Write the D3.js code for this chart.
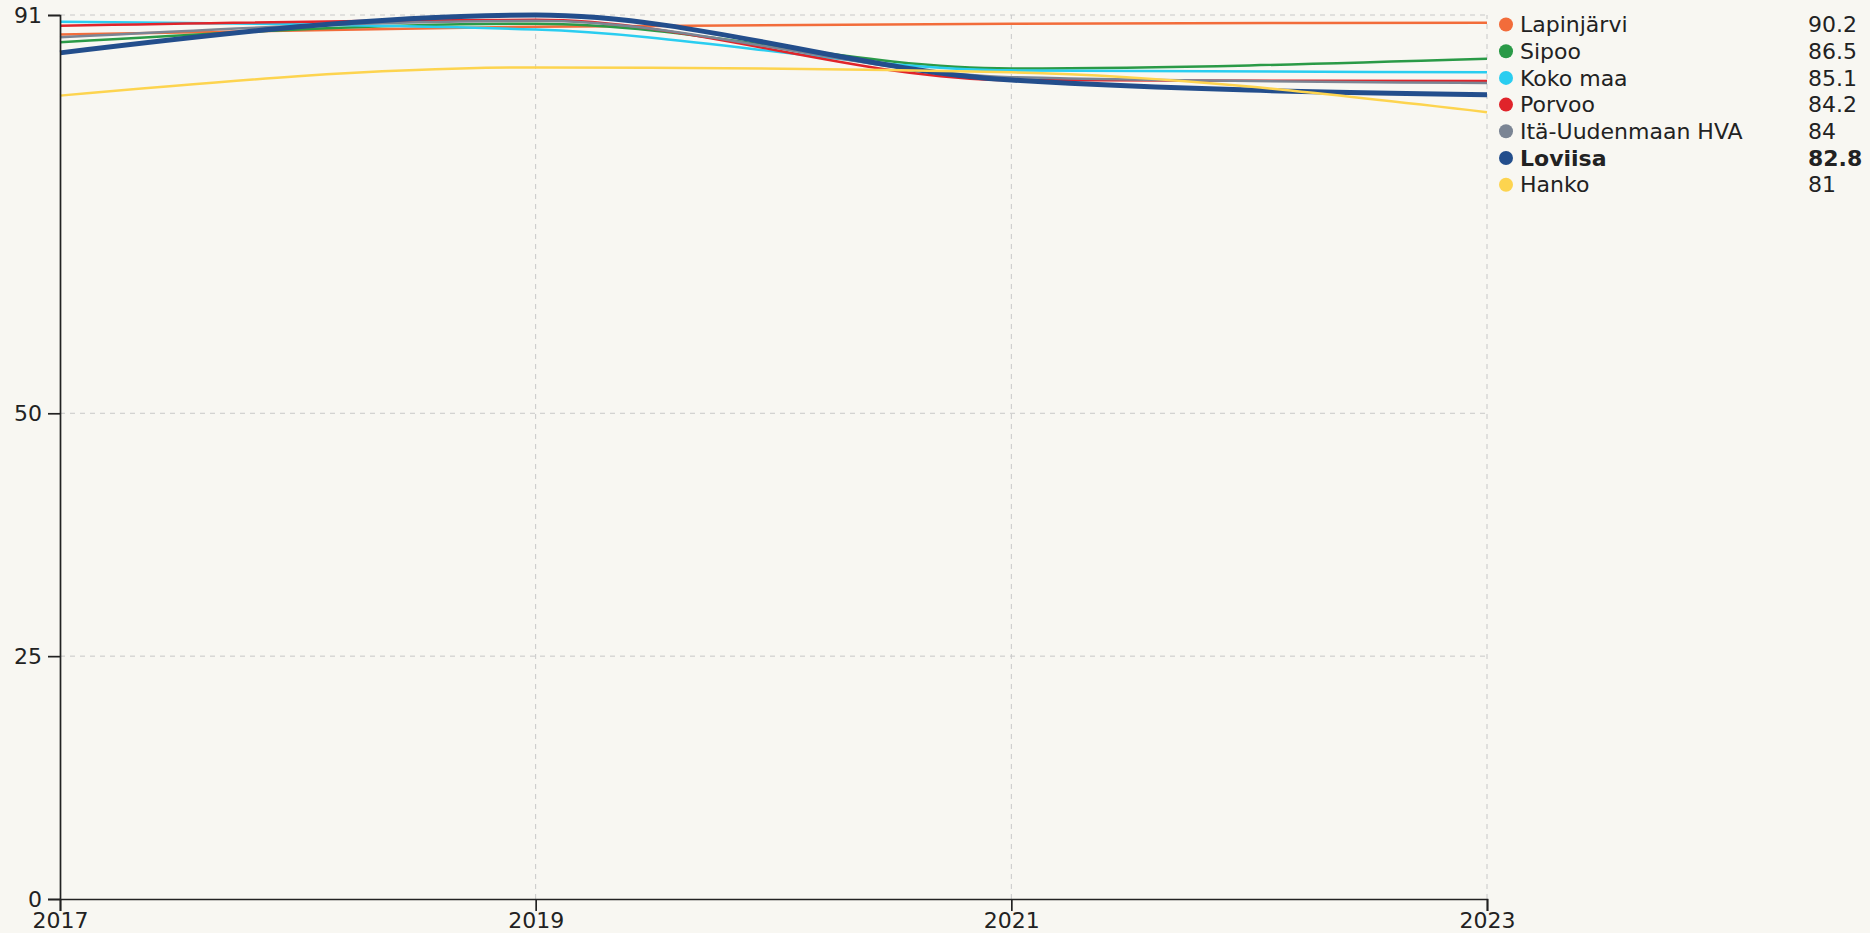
<!DOCTYPE html>
<html>

<head>
    <meta charset="utf-8">
    <script src="https://d3js.org/d3.v7.min.js"></script>
    <style>
        body {
            margin: 0;
            background: #f8f7f2;
        }
        text {
            font-family: "DejaVu Sans", sans-serif;
            fill: #222;
        }
    </style>
</head>

<body>
<script>
    // data
    let years = [2017, 2019, 2021, 2023];
    let yTicks = [0, 25, 50, 91];

    let names = ["Lapinjärvi", "Sipoo", "Koko maa", "Porvoo", "Itä-Uudenmaan HVA", "Loviisa", "Hanko"];
    let lapinjarvi = [89.0, 89.8, 90.1, 90.2];
    let sipoo = [88.2, 90.1, 85.5, 86.5];
    let kokoMaa = [90.3, 89.5, 85.3, 85.1];
    let porvoo = [89.9, 90.5, 84.3, 84.2];
    let itaUusimaa = [88.7, 90.4, 84.6, 84.0];
    let loviisa = [87.1, 91.0, 84.3, 82.8];
    let hanko = [82.7, 85.6, 85.1, 81.0];
    let colors = ["#f26c3a", "#2a9a47", "#2acdf0", "#e0242a", "#7b8594", "#234e8c", "#fdd44f"];
    let highlight = "Loviisa";

    let values = [lapinjarvi, sipoo, kokoMaa, porvoo, itaUusimaa, loviisa, hanko];
    let series = names.map((n, i) => ({
        name: n,
        color: colors[i],
        points: years.map((y, j) => ({year: y, value: values[i][j]}))
    }));

    let width = 1870,
        height = 933,
        margin = {top: 15, left: 60, right: 383, bottom: 34};

    let svg = d3.select("body")
        .append("svg")
            .attr("width", width)
            .attr("height", height);

    let x = d3.scaleLinear()
        .domain(d3.extent(years))
        .range([margin.left, width - margin.right]);

    let y = d3.scaleLinear()
        .domain([0, d3.max(yTicks)])
        .range([height - margin.bottom, margin.top]);

    // grid
    let grid = svg.append("g")
        .attr("stroke", "#c8c8c8")
        .attr("stroke-width", 1)
        .attr("stroke-dasharray", "5,5");

    grid.selectAll("line.h")
        .data(yTicks.filter(d => d > 0))
        .join("line")
            .attr("class", "h")
            .attr("x1", x.range()[0])
            .attr("x2", x.range()[1])
            .attr("y1", d => y(d))
            .attr("y2", d => y(d));

    grid.selectAll("line.v")
        .data(years.slice(1))
        .join("line")
            .attr("class", "v")
            .attr("x1", d => x(d))
            .attr("x2", d => x(d))
            .attr("y1", y.range()[0])
            .attr("y2", y.range()[1]);

    // lines
    let line = d3.line()
        .x(d => x(d.year))
        .y(d => y(d.value))
        .curve(d3.curveMonotoneX);

    svg.append("g")
        .selectAll("path")
        .data(series)
        .join("path")
            .attr("fill", "none")
            .attr("stroke", d => d.color)
            .attr("stroke-width", d => d.name === highlight ? 5 : 2.5)
            .attr("d", d => line(d.points));

    // axes
    let xAxis = svg.append("g")
        .attr("transform", `translate(0,${y(0)})`)
        .call(d3.axisBottom(x)
            .tickValues(years)
            .tickFormat(d3.format("d"))
            .tickSize(12)
            .tickPadding(1));

    let yAxis = svg.append("g")
        .attr("transform", `translate(${x(years[0])},0)`)
        .call(d3.axisLeft(y)
            .tickValues(yTicks)
            .tickSize(12)
            .tickPadding(6));

    [xAxis, yAxis].forEach(a => {
        a.selectAll("path, line").attr("stroke", "#222").attr("stroke-width", 1.7);
        a.selectAll("text").attr("font-size", 22).attr("font-family", "DejaVu Sans").attr("fill", "#222");
    });

    // legend, sorted by latest value
    let last = years.length - 1;
    let legendData = series.slice().sort((a, b) => b.points[last].value - a.points[last].value);

    let legend = svg.append("g")
        .selectAll("g")
        .data(legendData)
        .join("g")
            .attr("transform", (d, i) => `translate(1506,${24.5 + i * 26.7})`);

    legend.append("circle")
        .attr("r", 7)
        .attr("fill", d => d.color);

    legend.append("text")
        .attr("x", 14)
        .attr("dy", "0.35em")
        .attr("font-size", 22)
        .attr("font-weight", d => d.name === highlight ? "bold" : "normal")
        .text(d => d.name);

    legend.append("text")
        .attr("x", 302)
        .attr("dy", "0.35em")
        .attr("font-size", 22)
        .attr("font-weight", d => d.name === highlight ? "bold" : "normal")
        .text(d => d.points[last].value);
</script>
</body>

</html>
